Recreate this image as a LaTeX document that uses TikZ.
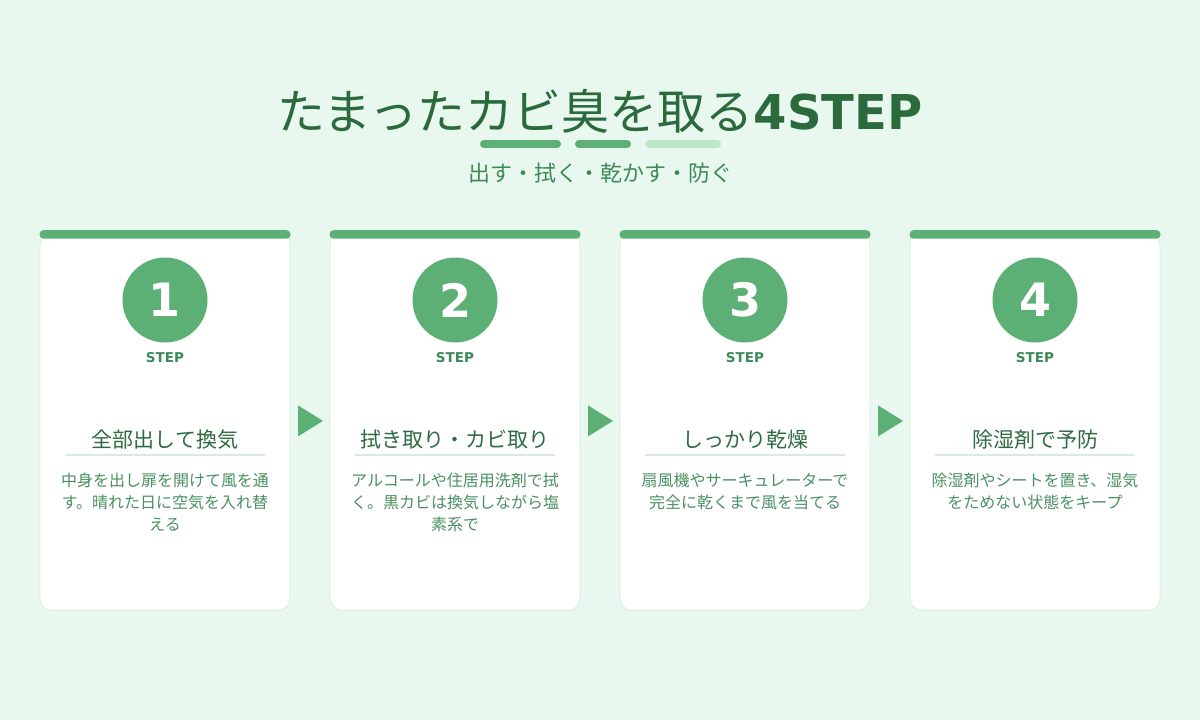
\documentclass[tikz,border=0pt]{standalone}
\usepackage{fontspec}
\usetikzlibrary{calc}
\setmainfont{DejaVu Sans}
\newfontfamily\jp{Noto Sans CJK JP}
\definecolor{bgc}{HTML}{E8F8EF}
\definecolor{cardline}{HTML}{D4EEDD}
\definecolor{mygreen}{HTML}{5DB075}
\definecolor{lightbar}{HTML}{BDE6CA}
\definecolor{titlec}{HTML}{2B6A3D}
\definecolor{subc}{HTML}{3D8A58}
\definecolor{ctitlec}{HTML}{2E6B40}
\definecolor{descc}{HTML}{4A9062}
\definecolor{stepc}{HTML}{3D8A58}
\tikzset{
  cardbox/.style={draw=cardline, line width=0.8pt, fill=white, rounded corners=12pt, minimum width=250pt, minimum height=379pt, inner sep=0pt, anchor=north},
  cardbar/.style={fill=mygreen, rounded corners=4pt, minimum width=251pt, minimum height=8.5pt, inner sep=0pt, anchor=north},
  numcirc/.style={circle, fill=mygreen, minimum size=85pt, inner sep=0pt, text=white, font=\fontsize{46}{50}\selectfont\bfseries},
  steplbl/.style={text=stepc, inner sep=0pt, font=\fontsize{13.5}{15}\selectfont\bfseries},
  ctitle/.style={text=ctitlec, inner sep=0pt, font=\jp\fontsize{21}{24}\selectfont},
  crule/.style={draw=cardline, line width=1.5pt},
  cdesc/.style={text=descc, inner sep=0pt, align=center, anchor=north, font=\jp\fontsize{16}{22}\selectfont},
  steparrow/.style={fill=mygreen},
  dbar/.style={line width=8pt, line cap=round}
}
\begin{document}
\begin{tikzpicture}[x=1pt,y=-1pt]
\useasboundingbox (0,0) rectangle (1200,720);
\fill[bgc] (0,0) rectangle (1200,720);
% heading
\node[text=titlec, inner sep=0pt, anchor=base] (title) at (600,129) {\fontsize{48}{54}\selectfont{\jp たまったカビ臭を取る}{\bfseries 4STEP}};
\coordinate (b1a) at (484,144); \coordinate (b1b) at (557,144);
\coordinate (b2a) at (579,144); \coordinate (b2b) at (627,144);
\coordinate (b3a) at (649,144); \coordinate (b3b) at (717,144);
\draw[dbar, mygreen] (b1a) -- (b1b);
\draw[dbar, mygreen] (b2a) -- (b2b);
\draw[dbar, lightbar] (b3a) -- (b3b);
\node[text=subc, inner sep=0pt, font=\jp\fontsize{22}{26}\selectfont] (sub) at (600,173) {出す・拭く・乾かす・防ぐ};
% cards
\foreach \i/\cx/\num/\ttl/\desc in {
  1/165/1/全部出して換気/{中身を出し扉を開けて風を通\\す。晴れた日に空気を入れ替\\える},
  2/455/2/拭き取り・カビ取り/{アルコールや住居用洗剤で拭\\く。黒カビは換気しながら塩\\素系で},
  3/745/3/しっかり乾燥/{扇風機やサーキュレーターで\\完全に乾くまで風を当てる},
  4/1035/4/除湿剤で予防/{除湿剤やシートを置き、湿気\\をためない状態をキープ}}{
  \node[cardbox] (card\i) at (\cx,231) {};
  \node[cardbar] (bar\i) at (\cx,230) {};
  \node[numcirc] (num\i) at (\cx,300) {\num};
  \node[steplbl] (step\i) at (\cx,358) {STEP};
  \node[ctitle] (ct\i) at (\cx,440) {\ttl};
  \coordinate (rl\i) at (\cx-100,455);
  \coordinate (rr\i) at (\cx+100,455);
  \draw[crule] (rl\i) -- (rr\i);
  \node[cdesc] (desc\i) at (\cx,472.5) {\desc};
}
% arrows between cards
\foreach \a/\b in {1/2,2/3,3/4}{
  \coordinate (ar\a) at ($(card\a.east)!0.5!(card\b.west)$);
  \fill[steparrow] ($(ar\a)+(-12,-15.5)$) -- ($(ar\a)+(13,0)$) -- ($(ar\a)+(-12,15.5)$) -- cycle;
}
\end{tikzpicture}
\end{document}
